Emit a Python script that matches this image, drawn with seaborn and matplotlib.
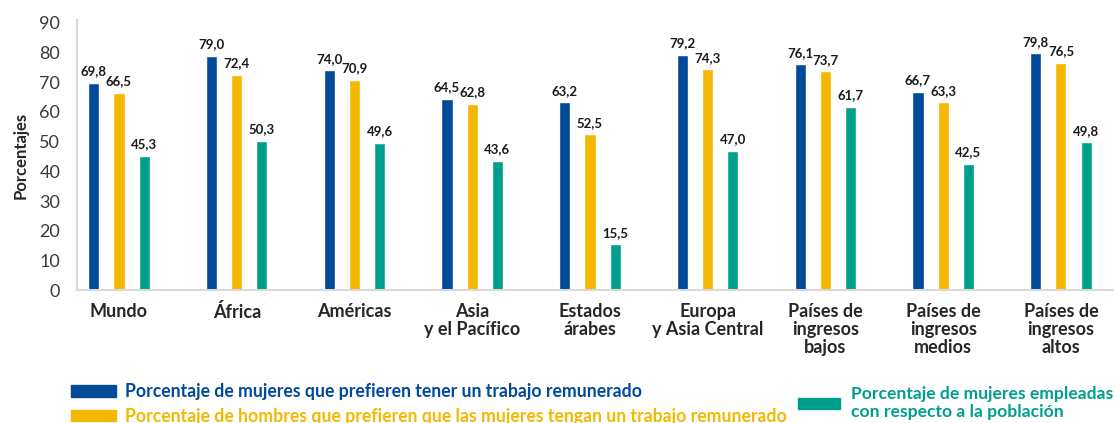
#!/usr/bin/env python3

import pandas as pd
import matplotlib.pyplot as plt
import seaborn as sns
from matplotlib.patches import Patch


regions = ['Mundo', 'África', 'Américas', 'Asia\ny el Pacífico', 'Estados\nárabes',
           'Europa\ny Asia Central', 'Países de\ningresos\nbajos',
           'Países de\ningresos\nmedios', 'Países de\ningresos\naltos']
series = ['Porcentaje de mujeres que prefieren tener un trabajo remunerado',
          'Porcentaje de hombres que prefieren que las mujeres tengan un trabajo remunerado',
          'Porcentaje de mujeres empleadas\ncon respecto a la población']
women_prefer = [69.8, 79.0, 74.0, 64.5, 63.2, 79.2, 76.1, 66.7, 79.8]
men_prefer = [66.5, 72.4, 70.9, 62.8, 52.5, 74.3, 73.7, 63.3, 76.5]
women_employed = [45.3, 50.3, 49.6, 43.6, 15.5, 47.0, 61.7, 42.5, 49.8]
colors = ['#004a98', '#f4b800', '#009e8c']


def build_frame():
    rows = []
    for name, vals in zip(series, [women_prefer, men_prefer, women_employed]):
        for reg, v in zip(regions, vals):
            rows.append({'region': reg, 'serie': name, 'valor': v})
    return pd.DataFrame(rows)


def main():
    sns.set_style('white')
    plt.rcParams['font.family'] = ['Lato', 'DejaVu Sans']

    df = build_frame()

    fig = plt.figure(figsize=(11.15, 4.23), dpi=100)
    ax = fig.add_axes([0.069, 0.314, 0.929, 0.639])

    sns.barplot(data=df, x='region', y='valor', hue='serie', order=regions,
                hue_order=series, palette=colors, width=0.642, saturation=1,
                legend=False, ax=ax)

    # narrow bars, keep their centres
    for patch in ax.patches:
        cx = patch.get_x() + patch.get_width() / 2
        patch.set_width(0.094)
        patch.set_x(cx - 0.047)

    for cont in ax.containers:
        ax.bar_label(cont, labels=[f'{v:.1f}'.replace('.', ',') for v in cont.datavalues],
                     padding=4, fontsize=9.5, fontweight='bold', color='#1a1a1a')

    ax.set_xlim(-0.357, 8.44)
    ax.set_ylim(0, 91)
    ax.set_yticks(range(0, 91, 10))
    ax.set_xlabel('')
    ax.set_ylabel('Porcentajes', fontsize=12, fontweight='bold', labelpad=8)
    ax.tick_params(axis='y', length=0, pad=12, labelsize=13, labelcolor='#3a3a3a')
    ax.tick_params(axis='x', length=0, pad=9, labelsize=13)
    for lbl in ax.get_xticklabels():
        lbl.set_fontweight('bold')
        lbl.set_linespacing(1.1)

    for side in ['top', 'right']:
        ax.spines[side].set_visible(False)
    for side in ['left', 'bottom']:
        ax.spines[side].set_color('#d9d9d9')
        ax.spines[side].set_linewidth(1.5)

    # legends
    h1 = [Patch(color=colors[0]), Patch(color=colors[1])]
    leg1 = fig.legend(h1, series[:2], loc='upper left', bbox_to_anchor=(0.049, 0.132),
                      frameon=False, handlelength=2.6, handleheight=0.62,
                      handletextpad=0.5, labelspacing=0.45,
                      prop={'weight': 'bold', 'size': 12.7})
    for t, c in zip(leg1.get_texts(), colors[:2]):
        t.set_color(c)
    leg2 = fig.legend([Patch(color=colors[2])], [series[2]], loc='upper left',
                      bbox_to_anchor=(0.702, 0.125), frameon=False, handlelength=2.4,
                      handleheight=0.62, handletextpad=0.6,
                      prop={'weight': 'bold', 'size': 12.6})
    for t in leg2.get_texts():
        t.set_color(colors[2])

    fig.savefig('out.png', dpi=100)


if __name__ == "__main__":
    main()
